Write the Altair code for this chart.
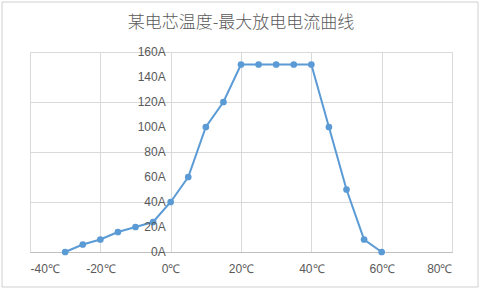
import altair as alt
import pandas as pd

temps = [-30, -25, -20, -15, -10, -5, 0, 5, 10, 15, 20, 25, 30, 35, 40, 45, 50, 55, 60]
currents = [0, 6, 10, 16, 20, 24, 40, 60, 100, 120, 150, 150, 150, 150, 150, 100, 50, 10, 0]
x_ticks = [-40, -20, 0, 20, 40, 60, 80]
y_ticks = [0, 20, 40, 60, 80, 100, 120, 140, 160]
title_text = "某电芯温度-最大放电电流曲线"

df = pd.DataFrame({"t": temps, "i": currents})
ylab = pd.DataFrame({"i": y_ticks, "t": [0] * len(y_ticks), "lab": [f"{v}A" for v in y_ticks]})

W, H = 422, 200
LINE = "#5B9BD5"
GRAY = "#595959"

xscale = alt.Scale(domain=[-40, 80], nice=False)
yscale = alt.Scale(domain=[0, 160], nice=False)

base = alt.Chart(df)

line = base.mark_line(color=LINE, strokeWidth=2).encode(
    x=alt.X("t:Q", scale=xscale, axis=alt.Axis(
        values=x_ticks, labelExpr="datum.value + '℃'", title=None,
        grid=True, gridColor="#d9d9d9", domain=True, domainColor="#bfbfbf",
        ticks=False, labelPadding=11, labelColor=GRAY, labelFontSize=12,
        labelFont="Liberation Sans")),
    y=alt.Y("i:Q", scale=yscale, axis=alt.Axis(
        values=y_ticks, title=None, labels=False, ticks=False, domain=False,
        grid=True, gridColor="#d9d9d9")),
)
pts = base.mark_point(filled=True, color=LINE, size=45, opacity=1).encode(
    x=alt.X("t:Q", scale=xscale), y=alt.Y("i:Q", scale=yscale))

labels = alt.Chart(ylab).mark_text(
    align="right", baseline="middle", dx=-5, color=GRAY, fontSize=12,
    font="Liberation Sans").encode(
    x=alt.X("t:Q", scale=xscale), y=alt.Y("i:Q", scale=yscale), text="lab:N")

frame = alt.Chart(pd.DataFrame({"a": [0]})).mark_rect(
    fill=None, stroke="#d0d0d0", strokeWidth=1).encode(
    x=alt.value(-28), x2=alt.value(W + 26), y=alt.value(-50), y2=alt.value(H + 35))

title = alt.Chart(pd.DataFrame({"txt": [title_text]})).mark_text(
    font="Noto Sans CJK SC", fontSize=17, fontWeight=300, color=GRAY, align="center",
    baseline="middle").encode(
    x=alt.value(W / 2), y=alt.value(-29), text="txt:N")

chart = alt.layer(frame, line, pts, labels, title).properties(
    width=W, height=H,
    autosize=alt.AutoSizeParams(type="none"),
    padding={"left": 30, "top": 52, "right": 28, "bottom": 37},
).configure_view(stroke="#d9d9d9").configure(background="white")

chart.save("out.html", embed_options={"renderer": "svg", "actions": False})
